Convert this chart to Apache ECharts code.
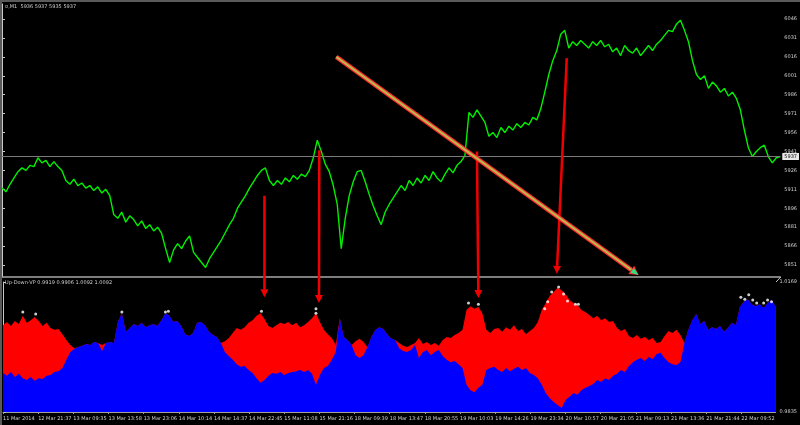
<!DOCTYPE html>
<html><head><meta charset="utf-8">
<script src="https://cdn.jsdelivr.net/npm/echarts@6/dist/echarts.min.js"></script>
<style>html,body{margin:0;padding:0;background:#000;}#c{width:800px;height:425px;}</style>
</head><body><div id="c"></div>
<script>
// ---------- data ----------
const timeLabels = ['11 Mar 2014','12 Mar 21:37','13 Mar 09:35','13 Mar 13:58','13 Mar 23:06','14 Mar 10:14',
  '14 Mar 14:37','14 Mar 22:45','15 Mar 11:08','15 Mar 21:16','18 Mar 09:39','18 Mar 13:47','18 Mar 20:55',
  '19 Mar 10:03','19 Mar 14:26','19 Mar 23:34','20 Mar 10:57','20 Mar 21:05','21 Mar 09:13','21 Mar 13:36',
  '21 Mar 21:44','22 Mar 09:52'];
const priceTicks = [6046,6031,6016,6001,5986,5971,5956,5941,5926,5911,5896,5881,5866,5851];
const indTicks = [1.0169, 0.9835];
const headerMain = '¤,M1  5936 5937 5935 5937';
const headerInd = 'Up-Down-VP 0.9919 0.9906 1.0092 1.0092';

const price = [
5912,5909,5915,5920,5925,5928,5926,5930,5929,5936,
5932,5934,5929,5933,5929,5926,5918,5915,5919,5914,
5916,5912,5914,5910,5913,5908,5911,5906,5891,5888,
5893,5885,5890,5887,5882,5886,5880,5883,5878,5881,
5876,5864,5853,5863,5868,5864,5870,5874,5861,5857,
5853,5849,5856,5861,5866,5871,5877,5883,5888,5896,
5901,5906,5912,5917,5922,5926,5928,5918,5914,5918,
5915,5920,5917,5922,5919,5923,5921,5926,5936,5950,
5941,5931,5925,5914,5899,5864,5888,5906,5917,5925,
5926,5917,5907,5898,5890,5883,5893,5899,5904,5909,
5914,5910,5918,5914,5920,5916,5922,5918,5925,5920,
5917,5923,5928,5924,5930,5933,5938,5972,5968,5974,
5969,5964,5953,5956,5952,5960,5956,5961,5958,5963,
5960,5964,5962,5968,5966,5975,5988,6002,6013,6021,
6034,6037,6023,6028,6025,6029,6026,6023,6028,6025,
6029,6024,6026,6020,6023,6017,6025,6021,6019,6023,
6017,6021,6025,6021,6026,6029,6033,6037,6036,6042,
6045,6037,6028,6013,6002,5998,6001,5991,5996,5993,
5988,5991,5985,5988,5983,5974,5958,5944,5937,5941,
5944,5946,5937,5932,5936,5937];

const indTop = [
1.0058,1.0066,1.0056,1.0069,1.0061,1.0082,1.0064,1.0071,1.0079,1.0069,
1.0056,1.0064,1.0051,1.0046,1.0048,1.0035,1.0020,1.0007,0.9999,1.0002,
1.0005,1.0010,1.0007,1.0015,1.0012,1.0007,1.0012,1.0015,1.0012,1.0066,
1.0089,1.0041,1.0051,1.0061,1.0056,1.0064,1.0053,1.0058,1.0061,1.0056,
1.0071,1.0089,1.0082,1.0066,1.0069,1.0056,1.0035,1.0030,1.0038,1.0064,
1.0066,1.0058,1.0041,1.0033,1.0028,1.0012,1.0017,1.0025,1.0038,1.0051,
1.0046,1.0053,1.0064,1.0071,1.0082,1.0089,1.0074,1.0056,1.0051,1.0058,
1.0064,1.0061,1.0066,1.0058,1.0064,1.0053,1.0058,1.0066,1.0076,1.0089,
1.0066,1.0046,1.0035,1.0025,1.0007,1.0076,1.0028,1.0020,1.0007,1.0017,
1.0023,1.0015,1.0002,1.0028,1.0046,1.0053,1.0048,1.0035,1.0023,1.0020,
1.0012,1.0005,1.0002,1.0007,1.0012,1.0025,1.0010,1.0015,1.0007,1.0012,
1.0005,1.0020,1.0028,1.0025,1.0033,1.0038,1.0046,1.0097,1.0107,1.0100,
1.0105,1.0089,1.0046,1.0038,1.0048,1.0051,1.0041,1.0053,1.0046,1.0058,
1.0043,1.0048,1.0035,1.0043,1.0051,1.0066,1.0097,1.0115,1.0133,1.0143,
1.0154,1.0148,1.0138,1.0123,1.0115,1.0110,1.0097,1.0092,1.0084,1.0076,
1.0082,1.0071,1.0076,1.0066,1.0069,1.0051,1.0043,1.0048,1.0030,1.0025,
1.0033,1.0023,1.0028,1.0020,1.0025,1.0012,1.0015,1.0030,1.0043,1.0038,
1.0046,1.0033,1.0012,1.0046,1.0071,1.0087,1.0061,1.0069,1.0046,1.0053,
1.0048,1.0056,1.0041,1.0051,1.0064,1.0058,1.0105,1.0118,1.0125,1.0112,
1.0107,1.0112,1.0102,1.0115,1.0123,1.0107];

const indBlue = [
0.9935,0.9928,0.9938,0.9925,0.9933,0.9922,0.9917,0.9925,0.9915,0.9922,
0.9920,0.9928,0.9930,0.9938,0.9940,0.9948,0.9969,0.9989,0.9997,1.0002,
1.0005,1.0010,1.0007,1.0015,1.0012,0.9992,1.0012,1.0015,1.0012,1.0066,
1.0089,1.0041,1.0051,1.0061,1.0056,1.0064,1.0053,1.0058,1.0061,1.0056,
1.0071,1.0089,1.0082,1.0066,1.0069,1.0056,1.0035,1.0030,1.0038,1.0064,
1.0066,1.0058,1.0041,1.0033,1.0028,1.0012,0.9989,0.9979,0.9969,0.9958,
0.9951,0.9953,0.9943,0.9935,0.9922,0.9910,0.9917,0.9928,0.9935,0.9933,
0.9938,0.9930,0.9935,0.9938,0.9940,0.9943,0.9938,0.9943,0.9933,0.9905,
0.9930,0.9948,0.9953,0.9969,0.9989,1.0076,1.0028,1.0020,1.0007,0.9981,
0.9974,0.9981,1.0002,1.0028,1.0046,1.0053,1.0048,1.0035,1.0023,1.0020,
0.9999,0.9992,0.9989,0.9994,1.0007,0.9974,0.9989,0.9994,0.9981,0.9989,
0.9994,0.9979,0.9969,0.9963,0.9966,0.9958,0.9948,0.9905,0.9891,0.9886,
0.9897,0.9905,0.9943,0.9948,0.9951,0.9943,0.9938,0.9948,0.9940,0.9946,
0.9951,0.9943,0.9948,0.9935,0.9930,0.9922,0.9905,0.9884,0.9871,0.9861,
0.9853,0.9845,0.9866,0.9874,0.9884,0.9879,0.9891,0.9897,0.9902,0.9907,
0.9917,0.9912,0.9922,0.9917,0.9928,0.9933,0.9943,0.9938,0.9953,0.9963,
0.9969,0.9974,0.9966,0.9976,0.9971,0.9984,0.9987,0.9974,0.9963,0.9958,
0.9956,0.9963,1.0012,1.0046,1.0071,1.0087,1.0061,1.0069,1.0046,1.0053,
1.0048,1.0056,1.0041,1.0051,1.0064,1.0058,1.0105,1.0118,1.0125,1.0112,
1.0107,1.0112,1.0102,1.0115,1.0123,1.0107];

const whiteDots = [
[5,1.0092],[8.25,1.0087],[30,1.0092],[41,1.0092],[41.75,1.0094],[65.25,1.0094],[79,1.0100],[79,1.0089],
[117.5,1.0115],[120,1.0112],[136.75,1.0100],[137.5,1.0118],[138.5,1.0143],[140.25,1.0156],[141.5,1.0138],
[142.5,1.0120],[144.5,1.0112],[145.25,1.0112],
[186.25,1.0130],[187.25,1.0125],[188.25,1.0136],[189.25,1.0123],[190.25,1.0115],[192,1.0115],[193,1.0123],[194,1.0118]];

// annotations in data units: [barFrom, priceFrom, barTo, indicatorTo]
const downArrows = [
  [65.75, 5906, 66, 1.0130],
  [79.5, 5942, 79.75, 1.0115],
  [119, 5941, 120, 1.0128]
];
const priceArrow = [141.5, 6015, 139, 5844];
const trendArrow = [83.75, 6016, 159.5, 5843];

// ---------- chart ----------
const lastPrice = price[price.length - 1];
const labelStep = 8.875;
const labelPos = timeLabels.map((_, k) => k * labelStep);
const FONT = 'DejaVu Sans';
const TXT = '#d0d0d0';
const FS = 5;
const chart = echarts.init(document.getElementById('c'));

chart.setOption({
  backgroundColor: '#000',
  animation: false,
  title: [
    {text: headerMain, left: 5, top: 4, padding: 0, textStyle: {color: '#d0d0d0', fontSize: FS, fontWeight: 'normal', fontFamily: FONT}},
    {text: headerInd, left: 5, top: 280, padding: 0, textStyle: {color: '#d0d0d0', fontSize: FS, fontWeight: 'normal', fontFamily: FONT}}
  ],
  grid: [
    {left: 2, top: 4, width: 780, height: 273},
    {left: 2, top: 282, width: 780, height: 130}
  ],
  xAxis: [
    {type: 'value', gridIndex: 0, min: 0, max: 195,
      axisLine: {show: true, lineStyle: {color: '#a8a8a8', width: 1.5}}, axisTick: {show: false},
      axisLabel: {show: false}, splitLine: {show: false}},
    {type: 'value', gridIndex: 1, min: 0, max: 195,
      axisLine: {show: true, lineStyle: {color: '#a0a0a0'}},
      axisTick: {show: true, customValues: labelPos, length: 2, lineStyle: {color: '#a0a0a0'}},
      axisLabel: {customValues: labelPos, formatter: v => timeLabels[Math.round(v / labelStep)],
        align: 'left', color: TXT, fontSize: FS, fontFamily: FONT, margin: 4, hideOverlap: false,
        showMinLabel: true, showMaxLabel: true},
      splitLine: {show: false}}
  ],
  yAxis: [
    {type: 'value', gridIndex: 0, position: 'right', min: 5841.5, max: 6057.9,
      axisLine: {show: true, lineStyle: {color: '#c8c8c8'}},
      axisTick: {show: true, customValues: priceTicks, length: 3, lineStyle: {color: '#c8c8c8'}},
      axisLabel: {customValues: priceTicks, color: TXT, fontSize: FS, fontFamily: FONT, margin: 4, formatter: v => String(v)},
      splitLine: {show: false}},
    {type: 'value', gridIndex: 1, position: 'right', min: 0.9835, max: 1.0169,
      axisLine: {show: true, lineStyle: {color: '#c8c8c8'}},
      axisTick: {show: true, customValues: indTicks, length: 3, lineStyle: {color: '#c8c8c8'}},
      axisLabel: {customValues: indTicks, color: TXT, fontSize: FS, fontFamily: FONT, margin: 4, formatter: v => v.toFixed(4)},
      splitLine: {show: false}}
  ],
  series: [
    {type: 'line', name: 'price', xAxisIndex: 0, yAxisIndex: 0,
      data: price.map((p, i) => [i, p]), showSymbol: false, symbol: 'none',
      lineStyle: {color: '#00f000', width: 1.4}, z: 3,
      markLine: {silent: true, symbol: ['none', 'none'], animation: false,
        lineStyle: {color: '#7a7a7a', type: 'solid', width: 1},
        label: {position: 'end', formatter: String(lastPrice), color: '#000', backgroundColor: '#e8e8e8',
          fontSize: FS, fontFamily: FONT, padding: [1, 2], distance: 2},
        data: [{yAxis: lastPrice}]}},
    {type: 'line', name: 'up', xAxisIndex: 1, yAxisIndex: 1,
      data: indTop.map((v, i) => [i, v]), showSymbol: false, symbol: 'none', z: 2,
      lineStyle: {width: 0}, areaStyle: {color: '#ff0000', opacity: 1, origin: 'start'}},
    {type: 'line', name: 'down', xAxisIndex: 1, yAxisIndex: 1,
      data: indBlue.map((v, i) => [i, v]), showSymbol: false, symbol: 'none', z: 3,
      lineStyle: {width: 0}, areaStyle: {color: '#0000ff', opacity: 1, origin: 'start'}},
    {type: 'scatter', name: 'peaks', xAxisIndex: 1, yAxisIndex: 1,
      data: whiteDots, symbolSize: 3, itemStyle: {color: '#ffffff'}, z: 5}
  ]
});

// ---------- annotation arrows (positions from library scales) ----------
function px(g, x, y) { return chart.convertToPixel({gridIndex: g}, [x, y]); }
function arrow(p0, p1, color, width, headLen, headW, headFill) {
  const dx = p1[0] - p0[0], dy = p1[1] - p0[1], L = Math.hypot(dx, dy);
  const ux = dx / L, uy = dy / L, nx = -uy, ny = ux;
  const b = [p1[0] - ux * headLen, p1[1] - uy * headLen];
  return [
    {type: 'line', silent: true, z: 100, shape: {x1: p0[0], y1: p0[1], x2: b[0], y2: b[1]},
      style: {stroke: color, lineWidth: width, lineCap: 'butt'}},
    {type: 'polygon', silent: true, z: 101,
      shape: {points: [p1, [b[0] + nx * headW / 2, b[1] + ny * headW / 2], [b[0] - nx * headW / 2, b[1] - ny * headW / 2]]},
      style: {fill: headFill || color}}
  ];
}
const g = [];
downArrows.forEach(a => { g.push(...arrow(px(0, a[0], a[1]), px(1, a[2], a[3]), '#f00000', 2.5, 8, 8)); });
g.push(...arrow(px(0, priceArrow[0], priceArrow[1]), px(0, priceArrow[2], priceArrow[3]), '#f00000', 2.5, 8, 8));
const t0 = px(0, trendArrow[0], trendArrow[1]), t1 = px(0, trendArrow[2], trendArrow[3]);
g.push(...arrow(t0, t1, '#ff2a2a', 4.5, 9, 10, '#ff2a2a'));
g.push(...arrow(t0, t1, '#b8b850', 2, 8, 6, '#30e080'));
// window frame
g.push({type: 'rect', silent: true, z: 200, shape: {x: 0, y: 0, width: 2, height: 425}, style: {fill: '#5a5a5a'}});
g.push({type: 'rect', silent: true, z: 200, shape: {x: 0, y: 0, width: 800, height: 2}, style: {fill: '#5a5a5a'}});
const r0 = px(0, 195, 5841.5), r1 = px(1, 195, 1.0169);
g.push({type: 'line', silent: true, z: 50, shape: {x1: r0[0] + 0.5, y1: r0[1], x2: r1[0] + 0.5, y2: r1[1]}, style: {stroke: '#c8c8c8', lineWidth: 1}});
chart.setOption({graphic: g});
</script>
</body></html>
